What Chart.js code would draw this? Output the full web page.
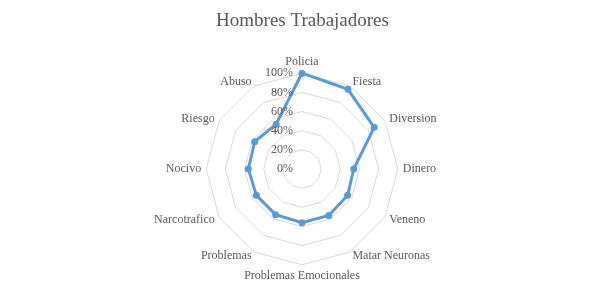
<!DOCTYPE html>
<html>
<head>
<meta charset="utf-8">
<script src="https://cdn.jsdelivr.net/npm/chart.js@4"></script>
<style>
  html, body { margin: 0; padding: 0; background: #fff; }
  #wrap { width: 605px; height: 303px; }
</style>
</head>
<body>
<div id="wrap"><canvas id="myChart" width="605" height="303"></canvas></div>
<script>
// categories around the radar, clockwise from the top
const categories = ['Policia', 'Fiesta', 'Diversion', 'Dinero', 'Veneno', 'Matar Neuronas',
                    'Problemas Emocionales', 'Problemas', 'Narcotrafico', 'Nocivo', 'Riesgo', 'Abuso'];
// share of answers, in percent
const hombres = [100, 96, 87, 54, 55, 56, 56, 55, 55, 56, 57, 54];
const tickValues = [0, 20, 40, 60, 80, 100];

const serif = 'Liberation Serif';
const textGrey = '#595959';

// Excel puts the % labels left of the vertical axis and centres the
// category labels on the spoke ends, so both are drawn here from the scale
const excelLabelsPlugin = {
    id: 'excelLabels',
    afterDatasetsDraw(chart) {
        const r = chart.scales.r;
        const ctx = chart.ctx;
        ctx.save();
        ctx.font = '12px ' + serif;
        ctx.fillStyle = textGrey;

        ctx.textAlign = 'right';
        ctx.textBaseline = 'middle';
        tickValues.forEach(v => {
            const p = r.getPointPositionForValue(0, v);
            ctx.fillText(v + '%', p.x - 9, p.y);
        });

        chart.data.labels.forEach((lbl, i) => {
            const p = r.getPointPosition(i, r.drawingArea + 5);
            const dx = p.x - r.xCenter;
            if (Math.abs(dx) < 1) {
                ctx.textAlign = 'center';
                ctx.textBaseline = p.y < r.yCenter ? 'bottom' : 'top';
            } else {
                ctx.textAlign = dx > 0 ? 'left' : 'right';
                ctx.textBaseline = 'middle';
            }
            ctx.fillText(lbl, p.x, p.y);
        });
        ctx.restore();
    }
};

let ctx = document.getElementById('myChart').getContext('2d');

let radarChart = new Chart(ctx, {
    type: 'radar',
    data: {
        labels: categories,
        datasets: [{
            label: 'Hombres',
            data: hombres,
            borderColor: '#5B9BD5',
            backgroundColor: '#5B9BD5',
            borderWidth: 3,
            fill: false,
            pointRadius: 3.5,
            pointBackgroundColor: '#5B9BD5',
            pointBorderWidth: 0
        }]
    },
    options: {
        responsive: false,
        animation: false,
        layout: {
            padding: { top: 0, bottom: 17, left: 0, right: 0 }
        },
        elements: {
            line: { tension: 0 }
        },
        plugins: {
            legend: { display: false },
            tooltip: { enabled: false },
            title: {
                display: true,
                text: 'Hombres Trabajadores',
                color: textGrey,
                font: { family: serif, size: 19, weight: 'normal' },
                padding: { top: 10, bottom: 21 }
            }
        },
        scales: {
            r: {
                min: 0,
                max: 100,
                ticks: { stepSize: 20, display: false },
                grid: { color: '#d9d9d9', lineWidth: 1 },
                angleLines: { display: false },
                pointLabels: {
                    color: 'rgba(0,0,0,0)',     // kept for sizing only, drawn by the plugin
                    font: { family: serif, size: 12 },
                    padding: 5
                }
            }
        }
    },
    plugins: [excelLabelsPlugin]
});
</script>
</body>
</html>
